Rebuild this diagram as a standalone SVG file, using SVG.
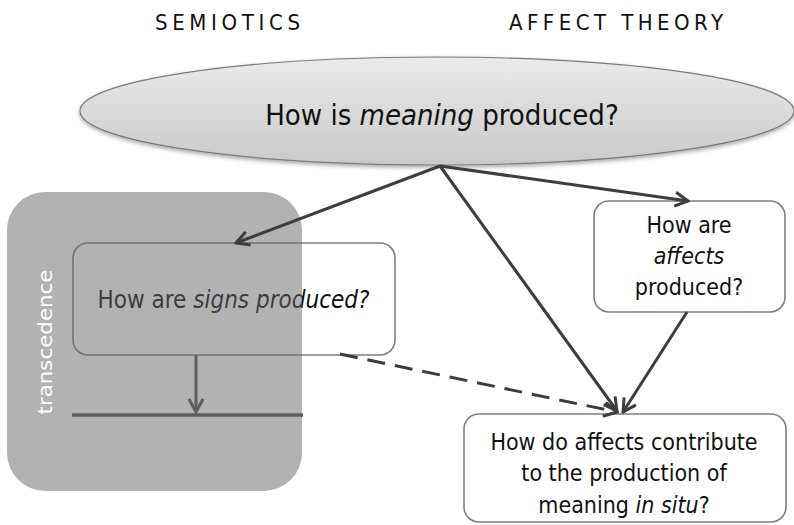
<svg xmlns="http://www.w3.org/2000/svg" width="794" height="525" viewBox="0 0 794 525">
<defs>
<linearGradient id="eg" x1="0" y1="0" x2="0" y2="1">
<stop offset="0" stop-color="#ebebeb"/>
<stop offset="1" stop-color="#c9c9c9"/>
</linearGradient>
<filter id="sh" x="-10%" y="-20%" width="120%" height="150%">
<feDropShadow dx="0" dy="2" stdDeviation="2" flood-color="#000" flood-opacity="0.35"/>
</filter>
<marker id="ah" markerUnits="userSpaceOnUse" viewBox="-16 -10 18 20" refX="0" refY="0" markerWidth="18" markerHeight="20" orient="auto">
<path d="M-13,-7 L0,0 L-13,7" fill="none" stroke="#3d3d3d" stroke-width="3"/>
</marker>
<marker id="ah2" markerUnits="userSpaceOnUse" viewBox="-16 -10 18 20" refX="0" refY="0" markerWidth="18" markerHeight="20" orient="auto">
<path d="M-13,-7 L0,0 L-13,7" fill="none" stroke="#555" stroke-width="3"/>
</marker>
</defs>
<style>
.hd{font-family:"Liberation Sans Narrow","DejaVu Sans Condensed",sans-serif;font-stretch:condensed;font-size:22px;fill:#111}
.t{font-family:"DejaVu Sans Condensed","DejaVu Sans",sans-serif;font-stretch:condensed;fill:#111}
.i{font-style:italic}
.box{fill:#fff;stroke:#7f7f7f;stroke-width:1.6}
.c{fill:none;stroke:#3d3d3d;stroke-width:3}
</style>
<rect width="794" height="525" fill="#fff"/>
<g id="headings">
<text class="hd" x="155" y="30" textLength="145" lengthAdjust="spacing">SEMIOTICS</text>
<text class="hd" x="509" y="30" textLength="214" lengthAdjust="spacing">AFFECT THEORY</text>
</g>
<g id="meaning">
<ellipse cx="437" cy="111" rx="357" ry="54" fill="url(#eg)" stroke="#7a7a7a" stroke-width="1.2" filter="url(#sh)"/>
<text class="t" x="442" y="125" font-size="29" text-anchor="middle">How is <tspan class="i">meaning</tspan> produced?</text>
</g>
<g id="signs">
<rect class="box" x="73" y="243" width="322" height="112" rx="15"/>
<text class="t" x="233.5" y="308" font-size="24" text-anchor="middle">How are <tspan class="i">signs produced?</tspan></text>
</g>
<g id="down-connector">
<line x1="196" y1="355" x2="196" y2="412" fill="none" stroke="#555" stroke-width="3" marker-end="url(#ah2)"/>
</g>
<g id="transcendence">
<line x1="72" y1="415" x2="303" y2="415" stroke="#555" stroke-width="3.5"/>
<rect x="7" y="192" width="295" height="299" rx="38" fill="#666" fill-opacity="0.5"/>
<text x="52" y="342" transform="rotate(-90 52 342)" text-anchor="middle" font-family="'DejaVu Sans',sans-serif" font-size="20" fill="#fff" textLength="145" lengthAdjust="spacingAndGlyphs">transcedence</text>
</g>
<g id="affects">
<rect class="box" x="594" y="201" width="191" height="111" rx="15"/>
<text class="t" x="689" y="233" font-size="23" text-anchor="middle">How are</text>
<text class="t i" x="689" y="264" font-size="23" text-anchor="middle">affects</text>
<text class="t" x="689" y="295" font-size="23" text-anchor="middle">produced?</text>
</g>
<g id="insitu">
<rect class="box" x="464" y="414" width="322" height="108" rx="15"/>
<text class="t" x="624" y="450" font-size="23" text-anchor="middle">How do affects contribute</text>
<text class="t" x="624" y="481" font-size="23" text-anchor="middle">to the production of</text>
<text class="t" x="624" y="513" font-size="23" text-anchor="middle">meaning <tspan class="i">in situ</tspan>?</text>
</g>
<g id="connectors">
<line class="c" x1="440" y1="166" x2="236" y2="243" marker-end="url(#ah)"/>
<line class="c" x1="440" y1="166" x2="688" y2="201" marker-end="url(#ah)"/>
<line class="c" x1="440" y1="166" x2="617" y2="411" marker-end="url(#ah)"/>
<line class="c" x1="687" y1="312" x2="623" y2="412" marker-end="url(#ah)"/>
<line class="c" x1="340" y1="354" x2="617" y2="412" stroke-dasharray="18 10" marker-end="url(#ah)"/>
</g>
</svg>
